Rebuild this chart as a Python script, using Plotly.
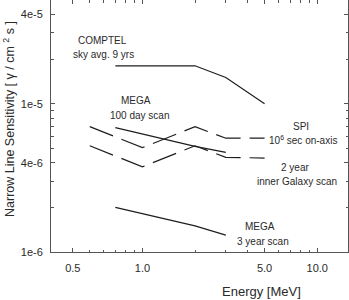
import plotly.graph_objects as go

# ---- data ----
comptel_e = [0.7, 2.0, 3.0, 5.0]
comptel_f = [1.8e-5, 1.8e-5, 1.5e-5, 1.0e-5]

mega100_e = [0.7, 2.0, 3.0]
mega100_f = [6.9e-6, 5.15e-6, 4.7e-6]

spi_axis_e = [0.5, 1.0, 2.0, 3.0, 5.0]
spi_axis_f = [7.0e-6, 5.05e-6, 7.0e-6, 5.85e-6, 5.85e-6]

spi_scan_e = [0.5, 1.0, 2.0, 3.0, 5.0]
spi_scan_f = [5.2e-6, 3.75e-6, 5.2e-6, 4.35e-6, 4.3e-6]

mega3y_e = [0.7, 2.0, 3.0]
mega3y_f = [2.0e-6, 1.5e-6, 1.3e-6]

x_tickvals = [0.4, 1.0, 5.0, 10.0]
x_ticktext = ["0.5", "1.0", "5.0", "10.0"]
x_minor = [0.5, 0.6, 0.7, 0.8, 0.9, 2, 3, 4, 6, 7, 8, 9]

y_tickvals = [1e-6, 4e-6, 1e-5, 4e-5]
y_ticktext = ["1e-6", "4e-6", "1e-5", "4e-5"]
y_minor = [2e-6, 3e-6, 5e-6, 6e-6, 7e-6, 8e-6, 9e-6, 2e-5, 3e-5]

FONT = "Liberation Sans, Arial, Helvetica, sans-serif"
LINE = "#1e1e1e"
AX = "#555555"
TXT = "#2a2a2a"

fig = go.Figure()
solid = dict(color=LINE, width=1.2)
dashed = dict(color=LINE, width=1.2, dash="25px,9px")
fig.add_trace(go.Scatter(x=comptel_e, y=comptel_f, mode="lines", line=solid))
fig.add_trace(go.Scatter(x=mega100_e, y=mega100_f, mode="lines", line=solid))
fig.add_trace(go.Scatter(x=spi_axis_e, y=spi_axis_f, mode="lines", line=dashed))
fig.add_trace(go.Scatter(x=spi_scan_e, y=spi_scan_f, mode="lines", line=dashed))
fig.add_trace(go.Scatter(x=mega3y_e, y=mega3y_f, mode="lines", line=solid))

W, H = 349, 300
L, R, T, B = 51, 1, 0, 48
pw, ph = W - L - R, H - T - B


def px(xp, yp):
    return (xp - L) / pw, (H - B - yp) / ph


labels = [
    ("COMPTEL", 102, 40),
    ("sky avg. 9 yrs", 103, 54.5),
    ("MEGA", 135.5, 100.5),
    ("100 day scan", 140, 115),
    ("SPI", 301, 126.5),
    ("10<sup>6</sup> sec on-axis", 302.5, 140),
    ("2 year", 295, 167.5),
    ("inner Galaxy scan", 296.5, 181),
    ("MEGA", 260, 226.5),
    ("3 year scan", 263, 241.5),
]
for txt, x, y in labels:
    ax, ay = px(x, y)
    fig.add_annotation(x=ax, y=ay, xref="paper", yref="paper", text=txt,
                       showarrow=False, xanchor="center", yanchor="middle",
                       font=dict(family=FONT, size=10, color=TXT))

# axis titles
ax_, ay_ = px(261, 291)
fig.add_annotation(x=ax_, y=ay_, xref="paper", yref="paper", text="Energy [MeV]",
                   showarrow=False, xanchor="center", yanchor="middle",
                   font=dict(family=FONT, size=13, color=TXT))
ax_, ay_ = px(9, 119)
fig.add_annotation(x=ax_, y=ay_, xref="paper", yref="paper",
                   text="Narrow Line Sensitivity [ \u03b3 / cm <sup>2</sup> s ]",
                   textangle=-90, showarrow=False, xanchor="center", yanchor="middle",
                   font=dict(family=FONT, size=12.5, color=TXT))

fig.update_xaxes(type="log", range=[-0.5229, 1.1761], showgrid=False, zeroline=False,
                 showline=True, linecolor=AX, linewidth=1, mirror="ticks",
                 ticks="inside", ticklen=4, tickcolor=AX, tickwidth=1,
                 tickvals=x_tickvals, ticktext=x_ticktext,
                 tickfont=dict(family=FONT, size=11, color=TXT),
                 ticklabelstandoff=6,
                 minor=dict(tickvals=x_minor, ticks="inside", ticklen=2.5,
                            tickcolor=AX, tickwidth=1, showgrid=False))
fig.update_yaxes(type="log", range=[-6, -4.30103], showgrid=False, zeroline=False,
                 showline=True, linecolor=AX, linewidth=1, mirror="ticks",
                 ticks="inside", ticklen=4, tickcolor=AX, tickwidth=1,
                 tickvals=y_tickvals, ticktext=y_ticktext,
                 tickfont=dict(family=FONT, size=11, color=TXT),
                 ticklabelstandoff=5,
                 minor=dict(tickvals=y_minor, ticks="inside", ticklen=2.5,
                            tickcolor=AX, tickwidth=1, showgrid=False))

fig.update_layout(width=W, height=H, margin=dict(l=L, r=R, t=T, b=B),
                  plot_bgcolor="white", paper_bgcolor="white", showlegend=False)

fig.write_html("out.html", config={"displayModeBar": False},
               post_script="document.body.style.margin='0';")
